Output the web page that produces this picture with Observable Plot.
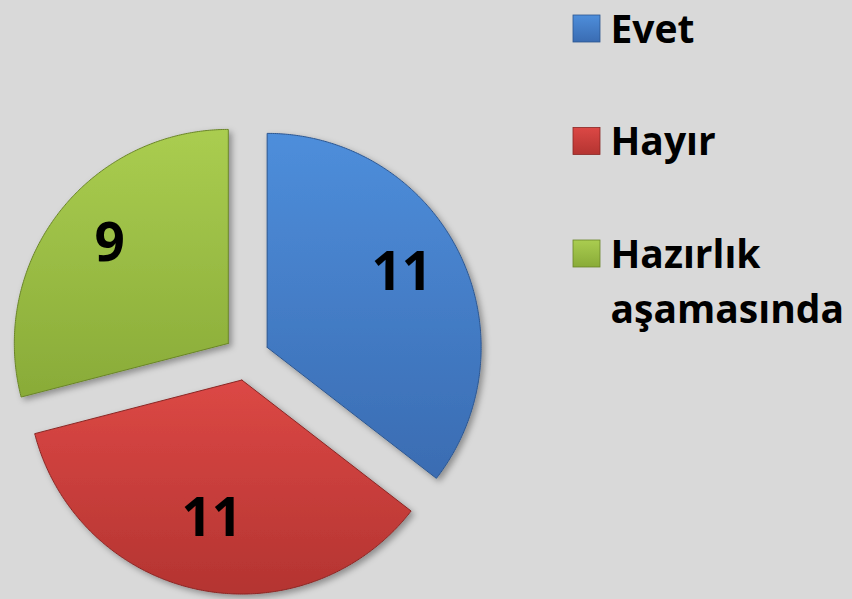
<!DOCTYPE html>
<html><head><meta charset="utf-8">
<script src="https://cdn.jsdelivr.net/npm/d3@7"></script>
<script src="https://cdn.jsdelivr.net/npm/@observablehq/plot@0.6"></script>
<style>html,body{margin:0;padding:0;background:#d9d9d9;overflow:hidden}</style>
</head><body><div id="chart"></div>
<script>
// Data
const categories = ["Evet", "Hayır", "Hazırlık aşamasında"];
const values = [11, 11, 9];
const legendLabels = ["Evet", "Hayır", "Hazırlık\naşamasında"];

// Styles
const palette = [
  {top: "#4e8edb", bottom: "#3a6cb2", stroke: "#2c5690"},
  {top: "#dc4845", bottom: "#b43431", stroke: "#8a2624"},
  {top: "#aacd50", bottom: "#89ab38", stroke: "#6a8528"}
];
const W = 852, H = 599;
const cx = 246, cy = 357, R = 214, explode = 23, labelR = 150;
const legendFont = 39;

// Geometry from data
const arcs = d3.pie().sort(null).value(d => d)(values);
const slicePts = [];
const labels = [];
arcs.forEach((a, i) => {
  const mid = (a.startAngle + a.endAngle) / 2;
  const ox = cx + explode * Math.sin(mid), oy = cy - explode * Math.cos(mid);
  slicePts.push({k: i, x: ox, y: oy});
  const n = Math.ceil((a.endAngle - a.startAngle) / (Math.PI / 360));
  for (let j = 0; j <= n; j++) {
    const t = a.startAngle + (a.endAngle - a.startAngle) * j / n;
    slicePts.push({k: i, x: ox + R * Math.sin(t), y: oy - R * Math.cos(t)});
  }
  slicePts.push({k: i, x: ox, y: oy});
  labels.push({x: ox + labelR * Math.sin(mid), y: oy - labelR * Math.cos(mid), text: String(values[i])});
});

const legend = categories.map((c, i) => ({
  k: i,
  label: legendLabels[i],
  baseline: 42 + i * 112.5
}));

const svg = Plot.plot({
  width: W, height: H, margin: 0,
  x: {domain: [0, W], range: [0, W], axis: null},
  y: {domain: [0, H], range: [0, H], axis: null},
  color: {type: "identity"},
  style: {background: "#d9d9d9", fontFamily: "'Open Sans', sans-serif"},
  marks: [
    Plot.line(slicePts, {
      x: "x", y: "y", z: "k",
      fill: d => `url(#g${d.k})`,
      stroke: d => palette[d.k].stroke,
      strokeWidth: 1, strokeLinejoin: "round"
    }),
    Plot.text(labels, {
      x: "x", y: "y", text: "text", dy: -8,
      fontSize: 53, fontWeight: "bold", fill: "black"
    }),
    Plot.rect(legend, {
      x1: () => 573, x2: () => 600,
      y1: d => d.baseline - 27, y2: d => d.baseline,
      fill: d => `url(#g${d.k})`,
      stroke: d => palette[d.k].stroke, strokeWidth: 0.8
    }),
    Plot.text(legend, {
      x: () => 610, y: d => d.baseline - legendFont, text: "label",
      textAnchor: "start", lineAnchor: "top",
      fontSize: legendFont, fontWeight: "bold", fill: "black", lineHeight: 1.41
    })
  ]
});

const s = d3.select(svg);
const defs = s.insert("defs", ":first-child");
palette.forEach((p, i) => {
  const g = defs.append("linearGradient").attr("id", `g${i}`)
    .attr("x1", 0).attr("y1", 0).attr("x2", 0).attr("y2", 1);
  g.append("stop").attr("offset", "0%").attr("stop-color", p.top);
  g.append("stop").attr("offset", "100%").attr("stop-color", p.bottom);
});
const f = defs.append("filter").attr("id", "shadow")
  .attr("x", "-10%").attr("y", "-10%").attr("width", "130%").attr("height", "130%");
f.append("feDropShadow").attr("dx", 3).attr("dy", 3).attr("stdDeviation", 3)
  .attr("flood-color", "#000").attr("flood-opacity", 0.35);
s.selectAll("g[aria-label=line]").attr("filter", "url(#shadow)");

document.getElementById("chart").appendChild(svg);
</script>
</body></html>
